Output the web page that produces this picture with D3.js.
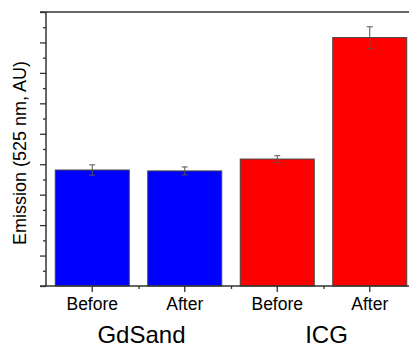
<!DOCTYPE html>
<html>
<head>
<meta charset="utf-8">
<script src="https://cdn.jsdelivr.net/npm/d3@7"></script>
<style>
  body { margin: 0; background: #fff; }
  svg text { font-family: "Liberation Sans", Arial, sans-serif; fill: #000; }
</style>
</head>
<body>
<svg id="chart" width="409" height="347"></svg>
<script>
  // data
  var groups = ["GdSand", "ICG"];
  var conditions = ["Before", "After", "Before", "After"];
  var groupOf = [0, 0, 1, 1];
  var values = [3.81, 3.78, 4.17, 8.16];
  var errors = [0.17, 0.13, 0.11, 0.355];
  var yMax = 9;

  var svg = d3.select("#chart");
  var plotL = 46, plotR = 416, plotT = 12, plotB = 286;
  var axisColor = "#333";

  var x = d3.scaleBand().domain(d3.range(values.length))
    .range([plotL, plotR]).paddingInner(0.2).paddingOuter(0.1);
  var y = d3.scaleLinear().domain([0, yMax]).range([plotB, plotT]);

  /* bars */
  var colors = ["#0000ff", "#ff0000"];
  svg.selectAll("rect.bar").data(values).enter().append("rect")
    .attr("class", "bar")
    .attr("x", function (d, i) { return x(i); })
    .attr("y", function (d) { return y(d); })
    .attr("width", x.bandwidth())
    .attr("height", function (d) { return y(0) - y(d); })
    .attr("fill", function (d, i) { return colors[groupOf[i]]; })
    .attr("stroke", "#444")
    .attr("stroke-width", 1);

  /* error bars */
  var eb = svg.selectAll("g.err").data(values).enter().append("g")
    .attr("class", "err")
    .attr("stroke", "#555").attr("stroke-width", 1);
  eb.append("line")
    .attr("x1", function (d, i) { return x(i) + x.bandwidth() / 2; })
    .attr("x2", function (d, i) { return x(i) + x.bandwidth() / 2; })
    .attr("y1", function (d, i) { return y(d + errors[i]); })
    .attr("y2", function (d, i) { return y(d - errors[i]); });
  [1, -1].forEach(function (s) {
    eb.append("line")
      .attr("x1", function (d, i) { return x(i) + x.bandwidth() / 2 - 3; })
      .attr("x2", function (d, i) { return x(i) + x.bandwidth() / 2 + 3; })
      .attr("y1", function (d, i) { return y(d + s * errors[i]); })
      .attr("y2", function (d, i) { return y(d + s * errors[i]); });
  });

  /* y axis: major + minor ticks, no labels */
  var yMinor = svg.append("g").attr("transform", "translate(" + plotL + ",0)")
    .call(d3.axisLeft(y).tickValues(d3.range(0.5, yMax, 1)).tickSize(3).tickFormat(""));
  var yMajor = svg.append("g").attr("transform", "translate(" + plotL + ",0)")
    .call(d3.axisLeft(y).tickValues(d3.range(0, yMax + 1, 1)).tickSize(6).tickFormat(""));

  /* x axis */
  var xs = d3.scaleLinear().domain([0, values.length]).range([plotL, plotR]);
  var xMinor = svg.append("g").attr("transform", "translate(0," + plotB + ")")
    .call(d3.axisBottom(xs).tickValues(d3.range(1, values.length)).tickSize(3).tickFormat(""));
  var xMajor = svg.append("g").attr("transform", "translate(0," + plotB + ")")
    .call(d3.axisBottom(x).tickSize(6).tickFormat(function (i) { return conditions[i]; }));
  xMajor.selectAll("text").attr("dy", 0).attr("y", 24).style("font-size", "17.5px");

  [yMinor, yMajor, xMinor, xMajor].forEach(function (g) {
    g.select(".domain").remove();
    g.selectAll("line").attr("stroke", axisColor).attr("stroke-width", 1.3);
  });

  /* axis lines and top frame */
  svg.append("line").attr("x1", plotL).attr("x2", plotL).attr("y1", plotT).attr("y2", plotB)
    .attr("stroke", axisColor).attr("stroke-width", 1.5);
  svg.append("line").attr("x1", 40).attr("x2", 409).attr("y1", plotB).attr("y2", plotB)
    .attr("stroke", axisColor).attr("stroke-width", 1.5);
  svg.append("line").attr("x1", 40).attr("x2", 409).attr("y1", plotT).attr("y2", plotT)
    .attr("stroke", axisColor).attr("stroke-width", 1.5);

  /* group labels */
  svg.selectAll("text.group").data(groups).enter().append("text")
    .attr("class", "group")
    .attr("x", function (g, k) {
      var idx = d3.range(values.length).filter(function (i) { return groupOf[i] === k; });
      return (x(idx[0]) + x(idx[idx.length - 1]) + x.bandwidth()) / 2 + 3;
    })
    .attr("y", 343)
    .attr("text-anchor", "middle")
    .style("font-size", "24px")
    .text(function (g) { return g; });

  /* y title */
  svg.append("text")
    .attr("transform", "translate(26,153) rotate(-90)")
    .attr("text-anchor", "middle")
    .style("font-size", "18px")
    .text("Emission (525 nm, AU)");
</script>
</body>
</html>
